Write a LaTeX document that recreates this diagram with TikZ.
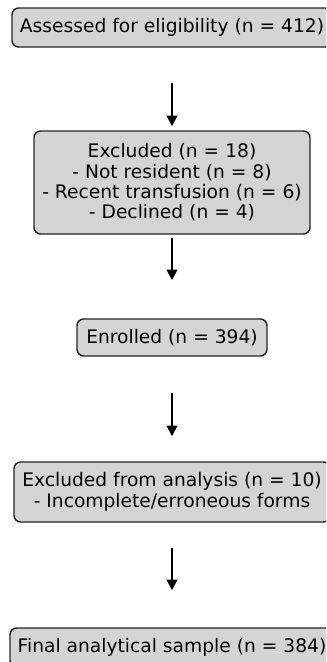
\documentclass[tikz,border=0pt]{standalone}
\usepackage{fontspec}
\setmainfont{DejaVu Sans}
\usetikzlibrary{arrows.meta}
\begin{document}
\begin{tikzpicture}[x=0.75pt,y=-0.75pt,
  box/.style={draw=black!85, fill=black!17, line width=1.1pt, rounded corners=5pt,
    align=center, inner sep=0pt, font=\fontsize{14pt}{15.3pt}\selectfont},
  arr/.style={-{Triangle[length=8pt,width=8pt]}, line width=1.4pt, black}]
\useasboundingbox (0,0) rectangle (326,662);
\clip (0,0) rectangle (326,662);
\node[box, minimum width=240pt, minimum height=29.25pt] (b1) at (172,27.5) {Assessed for eligibility (n = 412)};
\node[box, minimum width=207pt, minimum height=77.25pt] (b2) at (172,182.5) {Excluded (n = 18)\\- Not resident (n = 8)\\- Recent transfusion (n = 6)\\- Declined (n = 4)};
\node[box, minimum width=142.5pt, minimum height=27.75pt] (b3) at (172,337.5) {Enrolled (n = 394)};
\node[box, minimum width=237pt, minimum height=45pt] (b4) at (172,492) {Excluded from analysis (n = 10)\\- Incomplete/erroneous forms};
\node[box, minimum width=243pt, minimum height=29.25pt] (b5) at (172,647.5) {Final analytical sample (n = 384)};
\draw[arr, shorten <=26.25pt, shorten >=3pt] (b1) -- (b2);
\draw[arr, shorten <=2.25pt, shorten >=28.5pt] (b2) -- (b3);
\draw[arr, shorten <=27pt, shorten >=18.75pt] (b3) -- (b4);
\draw[arr, shorten <=18.75pt, shorten >=27.75pt] (b4) -- (b5);
\end{tikzpicture}
\end{document}
